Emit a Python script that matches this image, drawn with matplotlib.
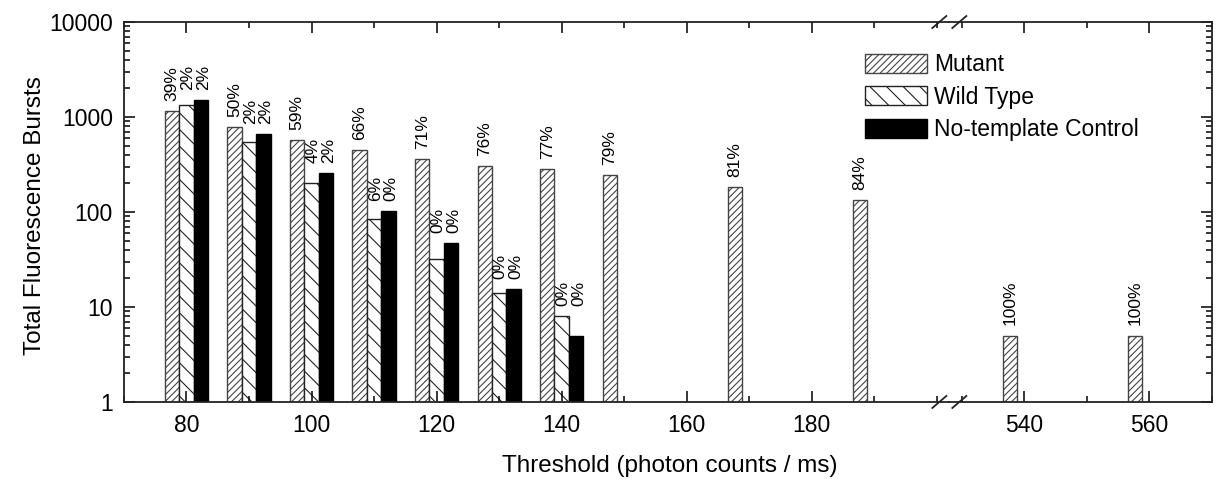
import matplotlib
matplotlib.use("Agg")
import matplotlib.pyplot as plt
import matplotlib.ticker as mticker
import numpy as np

plt.rcParams['font.family'] = ['Liberation Sans', 'DejaVu Sans']
plt.rcParams['hatch.linewidth'] = 0.8

# thresholds with all three samples
thr_all = [80, 90, 100, 110, 120, 130, 140]
# thresholds where only the mutant has bursts
thr_mut_only = [150, 170, 190]
thr_far = [540, 560]

mutant_all = [1150, 780, 575, 450, 360, 305, 285]
mutant_only = [245, 183, 134]
mutant_far = [5, 5]
wild = [1340, 545, 203, 85, 32, 14, 8]
ntc = [1520, 665, 255, 103, 47, 15.5, 5]

mutant_pct = ["39%", "50%", "59%", "66%", "71%", "76%", "77%"]
mutant_only_pct = ["79%", "81%", "84%"]
mutant_far_pct = ["100%", "100%"]
wild_pct = ["2%", "2%", "4%", "6%", "0%", "0%", "0%"]
ntc_pct = ["2%", "2%", "2%", "0%", "0%", "0%", "0%"]

y_ticks = [1, 10, 100, 1000, 10000]

w = 2.3
mut_style = dict(facecolor='white', edgecolor='#444444', hatch='/////', linewidth=1.0)
wild_style = dict(facecolor='white', edgecolor='#222222', hatch='\\\\', linewidth=1.0)
ntc_style = dict(facecolor='black', edgecolor='black', linewidth=1.0)

fig = plt.figure(figsize=(12.2, 4.79), dpi=100)
gs = fig.add_gridspec(1, 2, width_ratios=[132, 42], wspace=0,
                      left=0.1016, right=0.9934, bottom=0.1608, top=0.954)
ax1 = fig.add_subplot(gs[0])
ax2 = fig.add_subplot(gs[1], sharey=ax1)

x_all = np.array(thr_all, dtype=float)
b_m = ax1.bar(x_all - w, mutant_all, w, label='Mutant', **mut_style)
b_w = ax1.bar(x_all, wild, w, label='Wild Type', **wild_style)
b_n = ax1.bar(x_all + w, ntc, w, label='No-template Control', **ntc_style)
ax1.bar(np.array(thr_mut_only) - w, mutant_only, w, **mut_style)
ax2.bar(np.array(thr_far) - w, mutant_far, w, **mut_style)

lab_kw = dict(rotation=90, ha='center', va='bottom', fontsize=12.5)
for x, v, s in zip(x_all - w, mutant_all, mutant_pct):
    ax1.text(x, v * 1.28, s, **lab_kw)
for x, vw, vn, sw, sn in zip(x_all, wild, ntc, wild_pct, ntc_pct):
    top = max(vw, vn) * 1.28
    ax1.text(x + 0.2, top, sw, **lab_kw)
    ax1.text(x + w + 0.4, top, sn, **lab_kw)
for x, v, s in zip(np.array(thr_mut_only) - w, mutant_only, mutant_only_pct):
    ax1.text(x, v * 1.28, s, **lab_kw)
for x, v, s in zip(np.array(thr_far) - w, mutant_far, mutant_far_pct):
    ax2.text(x, v * 1.28, s, **lab_kw)

ax1.set_yscale('log')
ax1.set_ylim(1, 10000)
ax1.set_xlim(70, 202)
ax2.set_xlim(528, 570)

ax1.set_yticks(y_ticks)
ax1.set_yticklabels([str(t) for t in y_ticks])
ax1.yaxis.set_minor_locator(mticker.LogLocator(subs=np.arange(2, 10)))
ax1.yaxis.set_minor_formatter(mticker.NullFormatter())

ax1.set_xticks([80, 100, 120, 140, 160, 180])
ax1.xaxis.set_minor_locator(mticker.MultipleLocator(10))
ax2.set_xticks([540, 560])
ax2.xaxis.set_minor_locator(mticker.MultipleLocator(10))

for ax in (ax1, ax2):
    for sp in ax.spines.values():
        sp.set_linewidth(1.3)
        sp.set_color('#222222')
    ax.tick_params(which='both', direction='in', top=True, labelsize=16.5, width=1.1)
    ax.tick_params(which='major', length=8)
    ax.tick_params(which='minor', length=4)
    ax.tick_params(axis='x', pad=9)
    ax.tick_params(axis='y', pad=8)

ax1.spines['right'].set_visible(False)
ax2.spines['left'].set_visible(False)
ax1.tick_params(which='both', right=False)
ax2.tick_params(which='both', left=False, right=True, labelleft=False)

ax1.set_ylabel('Total Fluorescence Bursts', fontsize=17.5)
ax1.yaxis.set_label_coords(-0.094, 0.49)
fig.text(502 / 1220, 1 - 472 / 479, 'Threshold (photon counts / ms)', ha='left', fontsize=17.5)

# break marks on the axis
xj = ax1.get_position().x1
for yb in (ax1.get_position().y0, ax1.get_position().y1):
    for dx in (-10, 10):
        xc = xj + dx / 1220
        fig.add_artist(plt.Line2D([xc - 7 / 1220, xc + 7 / 1220], [yb - 6 / 479, yb + 6 / 479],
                                  transform=fig.transFigure, color='#222222', linewidth=1.3))

fig.legend(handles=[b_m, b_w, b_n], loc='upper left', bbox_to_anchor=(865 / 1220, 1 - 53 / 479),
           frameon=False, fontsize=16.5, handlelength=2.7, handleheight=0.9,
           labelspacing=0.42, handletextpad=0.3, borderpad=0, borderaxespad=0)

fig.savefig('out.png', dpi=100)
